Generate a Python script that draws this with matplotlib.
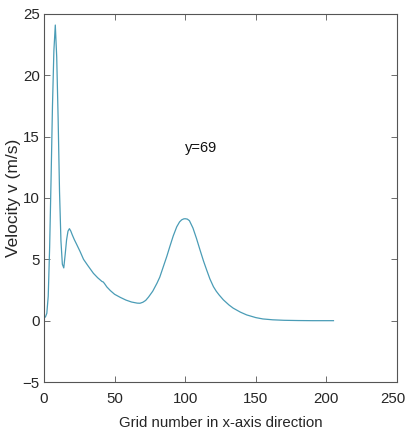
import matplotlib
matplotlib.use("Agg")
import matplotlib.pyplot as plt
import matplotlib.transforms as mtransforms

grid_x = [1, 2, 3, 4, 5, 6, 7, 8, 9, 10, 11, 12, 13, 14, 15, 16, 17, 18, 19, 20,
          21.5, 23, 25.5, 28, 31, 35, 38, 40, 41, 42, 43, 44.5, 47, 50, 54, 58, 62, 66, 68,
          70, 72, 74, 77, 80, 82, 84.5, 87, 89, 91.5, 94, 96, 97.5, 99, 100, 101.5,
          103, 105.5, 108, 110.5, 113, 115.2, 117.5, 120, 122, 124, 127, 131, 134,
          139, 143.5, 150, 155, 162, 170, 180, 190, 200, 205]
velocity = [0.3, 0.6, 2.0, 6.0, 11.5, 17.5, 22.0, 24.1, 21.5, 16.5, 10.5, 6.5, 4.6, 4.3,
            5.4, 6.6, 7.3, 7.5, 7.3, 7.0,
            6.6, 6.25, 5.65, 5.0, 4.5, 3.86, 3.5, 3.3, 3.2, 3.15, 3.0, 2.75, 2.45, 2.15,
            1.9, 1.68, 1.52, 1.43, 1.42,
            1.5, 1.65, 1.92, 2.4, 3.05, 3.55, 4.4, 5.25, 6.0, 6.9, 7.65, 8.05, 8.22, 8.3,
            8.31, 8.28,
            8.15, 7.55, 6.7, 5.76, 4.85, 4.13, 3.4, 2.77, 2.4, 2.1, 1.7, 1.28, 1.02,
            0.7, 0.47, 0.25, 0.14, 0.07, 0.03, 0.01, 0.0, 0.0, 0.0]

x_ticks = [0, 50, 100, 150, 200, 250]
y_ticks = [-5, 0, 5, 10, 15, 20, 25]
annotation = "y=69"

plt.rcParams['font.family'] = ['Liberation Sans', 'DejaVu Sans']

fig = plt.figure(figsize=(4.07, 4.36), dpi=100)
ax = fig.add_axes([44/407, 1-382/436, (397-44)/407, (382-14)/436])

ax.plot(grid_x, velocity, color='#4a9cb6', linewidth=0.9)

ax.set_xlim(0, 250)
ax.set_ylim(-5, 25)
ax.set_xticks(x_ticks)
ax.set_yticks(y_ticks)

gray = '#262626'
for s in ax.spines.values():
    s.set_color('#555555')
    s.set_linewidth(0.8)
ax.tick_params(direction='in', top=True, right=True, length=4, width=0.6,
               colors='#555555', labelcolor=gray, labelsize=10.8)
ax.tick_params(axis='x', pad=7)
ax.tick_params(axis='y', pad=3)

# nudge the last x tick label slightly left so it stays inside the canvas
last = ax.get_xticklabels()[-1]
last.set_transform(last.get_transform() +
                   mtransforms.ScaledTranslation(-4 / 100, 0, fig.dpi_scale_trans))

ax.set_xlabel('Grid number in x-axis direction', fontsize=10.8, color=gray)
ax.set_ylabel('Velocity v (m/s)', fontsize=12.5, color=gray)
ax.xaxis.label.set_va('center')
ax.yaxis.label.set_va('center')
ax.xaxis.set_label_coords(0.5, (382 - 423) / 368)
ax.yaxis.set_label_coords((14 - 44) / 353, 0.5)

ax.text(100, 14.1, annotation, fontsize=10.5, color='#111111', ha='left', va='center')

fig.savefig('out.png', dpi=100)
